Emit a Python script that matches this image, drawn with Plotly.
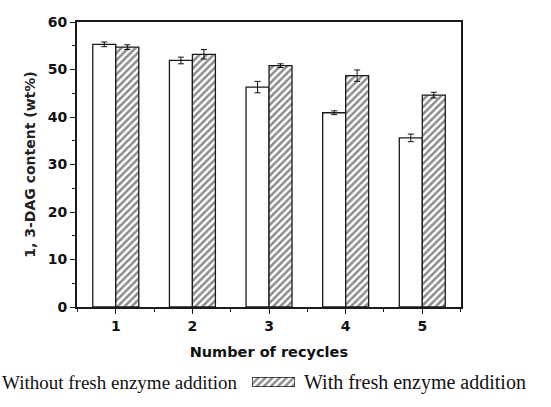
import plotly.graph_objects as go

recycles = [1, 2, 3, 4, 5]
without_fresh = [55.3, 51.9, 46.3, 40.9, 35.6]
without_err = [0.5, 0.7, 1.2, 0.4, 0.8]
with_fresh = [54.7, 53.2, 50.8, 48.7, 44.6]
with_err = [0.5, 1.0, 0.4, 1.2, 0.6]
ytick_vals = [0, 10, 20, 30, 40, 50, 60]
legend_names = ["Without fresh enzyme addition", "With fresh enzyme addition"]

W, H = 551, 407
line_col = "#1a1a1a"
pattern = dict(shape="/", fgcolor="#1a1a1a", bgcolor="white", size=5, solidity=0.5)

fig = go.Figure()
fig.add_trace(go.Bar(
    x=recycles, y=without_fresh, width=0.3, offset=-0.3,
    marker=dict(color="white", line=dict(color=line_col, width=1.3)),
    error_y=dict(type="data", array=without_err, color="#111", thickness=1, width=3),
    name=legend_names[0], showlegend=False,
))
fig.add_trace(go.Bar(
    x=recycles, y=with_fresh, width=0.3, offset=0.0,
    marker=dict(color="white", line=dict(color=line_col, width=1.3), pattern=pattern),
    error_y=dict(type="data", array=with_err, color="#111", thickness=1, width=3),
    name=legend_names[1], showlegend=False,
))
# legend swatch (hatched key)
fig.add_trace(go.Bar(
    x=[0], y=[1], width=1, xaxis="x2", yaxis="y2",
    marker=dict(color="white", line=dict(color=line_col, width=1.3), pattern=pattern),
    showlegend=False, hoverinfo="skip",
))

x0, x1 = 76.7, 461.0
ytop, ybot = 22.0, 307.0
fig.update_layout(
    width=W, height=H,
    margin=dict(l=0, r=0, t=0, b=0, autoexpand=False),
    paper_bgcolor="white", plot_bgcolor="white",
    barmode="overlay",
    xaxis=dict(
        domain=[x0 / W, x1 / W], range=[0.49, 5.505],
        tickvals=recycles, ticks="outside", ticklen=5, tickwidth=1.3, tickcolor=line_col,
        minor=dict(dtick=0.5, tick0=0.5, ticks="outside", ticklen=3, tickwidth=1.3, tickcolor=line_col),
        showline=True, linecolor=line_col, linewidth=1.5, mirror=True,
        showgrid=False, zeroline=False,
        tickfont=dict(family="DejaVu Sans", size=14, color="#111", weight="bold"),
        title=dict(text="<b>Number of recycles</b>", font=dict(family="DejaVu Sans", size=14.5, color="#111"), standoff=14),
    ),
    yaxis=dict(
        domain=[(H - ybot) / H, (H - ytop) / H], range=[0, 60],
        tickvals=ytick_vals, ticks="outside", ticklen=5, tickwidth=1.3, tickcolor=line_col,
        minor=dict(dtick=5, ticks="outside", ticklen=3, tickwidth=1.3, tickcolor=line_col),
        showline=True, linecolor=line_col, linewidth=1.5, mirror=True,
        showgrid=False, zeroline=False,
        tickfont=dict(family="DejaVu Sans", size=14, color="#111", weight="bold"),
        title=dict(text="<b>1, 3-DAG content (wt%)</b>", font=dict(family="DejaVu Sans", size=14, color="#222"), standoff=9),
    ),
    xaxis2=dict(domain=[252 / W, 295 / W], range=[-0.5, 0.5], visible=False, fixedrange=True, anchor="y2"),
    yaxis2=dict(domain=[(H - 387) / H, (H - 377) / H], range=[0, 1], visible=False, fixedrange=True, anchor="x2"),
    annotations=[
        dict(text=legend_names[0], xref="paper", yref="paper", x=0, y=(H - 382) / H,
             xanchor="left", yanchor="middle", showarrow=False,
             font=dict(family="Liberation Serif", size=19, color="#111")),
        dict(text=legend_names[1], xref="paper", yref="paper", x=302 / W, y=(H - 382) / H,
             xanchor="left", yanchor="middle", showarrow=False,
             font=dict(family="Liberation Serif", size=20, color="#111")),
    ],
)
fig.write_html("out.html", config={"displayModeBar": False},
               post_script="document.body.style.margin='0px';")
